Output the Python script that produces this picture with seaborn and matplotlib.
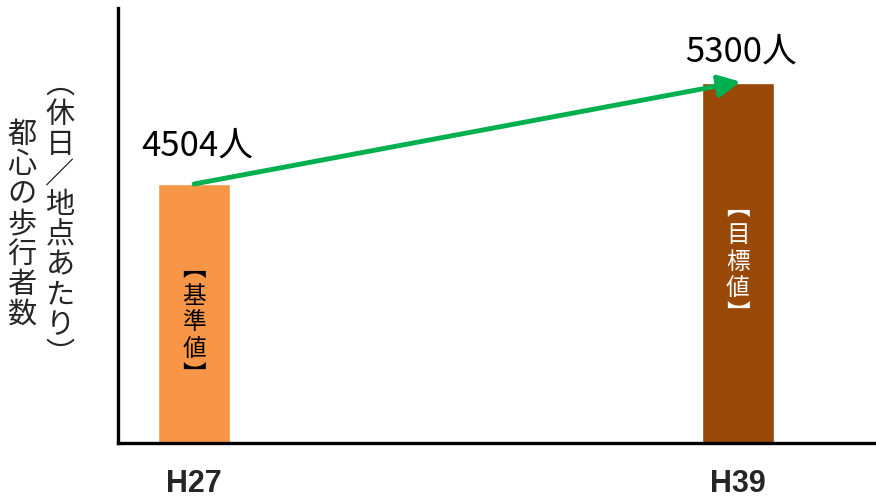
import numpy as np
import pandas as pd
import seaborn as sns
import matplotlib
matplotlib.use("Agg")
import matplotlib.pyplot as plt

# data
periods = ["H27", "H39"]
walkers = [4504, 5300]
value_labels = ["4504人", "5300人"]
bar_notes = ["【基準値】", "【目標値】"]
bar_colors = ["#F79646", "#984807"]
note_colors = ["black", "white"]
ylabel_lines = ["都心の歩行者数", "（休日／地点あたり）"]

sns.set_theme()
sns.set_style("white")
plt.rcParams['font.family'] = ['Noto Sans CJK JP', 'DejaVu Sans']

df = pd.DataFrame({"period": periods, "walkers": walkers})

fig = plt.figure(figsize=(8.76, 5.01), dpi=100)
ax = fig.add_axes([118 / 876, 58 / 501, 1 - 118 / 876, 435 / 501])

sns.barplot(df, x="period", y="walkers", hue="period", palette=bar_colors,
            width=0.132, legend=False, ax=ax, saturation=1)

ax.set_xlim(-0.14, 1.254)
ax.set_ylim(2463, 5891)

for s in ["top", "right"]:
    ax.spines[s].set_visible(False)
for s in ["left", "bottom"]:
    ax.spines[s].set_color("black")
    ax.spines[s].set_linewidth(2.4)

ax.set_yticks([])
ax.set_xlabel("")
ax.set_ylabel("")
ax.tick_params(axis="x", length=0, pad=19)
for lab in ax.get_xticklabels():
    lab.set_family(['Liberation Sans Narrow', 'Liberation Sans', 'DejaVu Sans'])
    lab.set_fontweight("bold")
    lab.set_fontsize(22)

# vertical forms for the notes
vert = str.maketrans({"【": "︻", "】": "︼", "（": "︵", "）": "︶"})

label_y = [4800, 5545]
for i, lab in enumerate(value_labels):
    ax.text(i + 0.005, label_y[i], lab, ha="center", va="center",
            fontsize=25, color="black")
note_y = [3409, 3889]
for i, (note, c) in enumerate(zip(bar_notes, note_colors)):
    ax.text(i, note_y[i], "\n".join(note.translate(vert)), ha="center",
            va="center", fontsize=17, color=c, linespacing=1.2)

# arrow between the two values
ax.annotate("", xy=(1.005, walkers[1] + 10), xytext=(0, walkers[0]),
            arrowprops=dict(arrowstyle="-|>,head_length=1.1,head_width=0.55",
                            color="#00B050", lw=3.5, shrinkA=0, shrinkB=0))

# two-column vertical y label
fig.text(22 / 876, 1 - 225 / 501, "\n".join(ylabel_lines[0]), ha="center",
         va="center", fontsize=21, linespacing=1.0)
fig.text(60 / 876, 1 - 220 / 501, "\n".join(ylabel_lines[1].translate(vert)),
         ha="center", va="center", fontsize=21, linespacing=1.0)

fig.savefig("out.png", dpi=100)
